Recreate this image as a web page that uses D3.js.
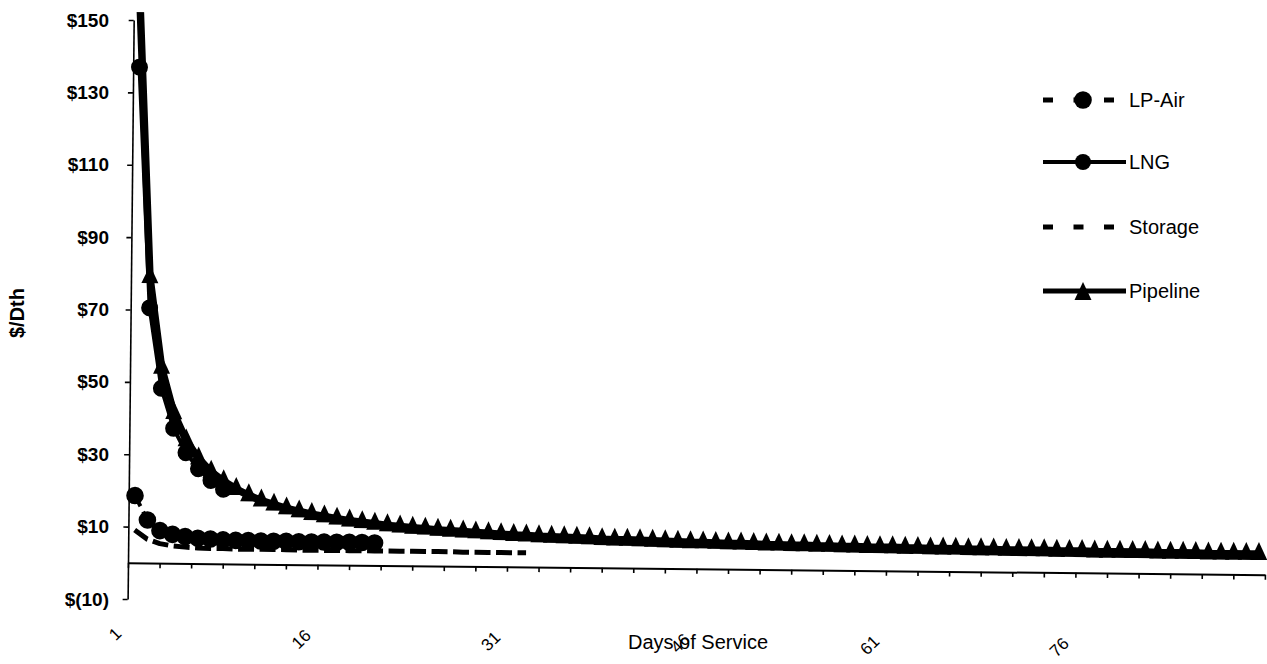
<!DOCTYPE html>
<html><head><meta charset="utf-8">
<script src="https://cdn.jsdelivr.net/npm/d3@7/dist/d3.min.js"></script>
<style>body{margin:0;background:#fff}svg{display:block;font-family:"Liberation Sans",Arial,sans-serif}</style>
</head><body><svg id="c" width="1267" height="664"></svg>
<script>
// ---- data ----
const days = d3.range(1, 91);                  // categories: day 1 .. 90
const xTickLabels = [1, 16, 31, 46, 61, 76];
const yTickValues = [-10, 10, 30, 50, 70, 90, 110, 130, 150];
const seriesNames = ["LP-Air", "LNG", "Storage", "Pipeline"];

const lpAir = [18.6, 11.9, 9.0, 8.0, 7.4, 7.0, 6.8, 6.6, 6.5, 6.5,
               6.4, 6.4, 6.4, 6.3, 6.3, 6.3, 6.3, 6.3, 6.3, 6.2];
const lng = [137.0, 70.5, 48.3, 37.3, 30.6, 26.2, 23.0, 20.6];
const storage = [9.1, 6.6, 5.4, 4.8, 4.5, 4.3, 4.2, 4.2, 4.1, 4.1,
                 4.1, 4.1, 4.1, 4.0, 4.0, 4.0, 4.0, 4.0, 4.0, 4.0,
                 4.0, 4.0, 4.0, 4.0, 4.0, 4.0, 3.9, 3.9, 3.9, 3.9,
                 3.9, 3.9];
const pipeline = [154.0, 79.0, 54.0, 41.5, 34.0, 29.0, 25.4, 22.8, 20.7, 19.0,
                  17.6, 16.5, 15.5, 14.7, 14.0, 13.4, 12.8, 12.3, 11.9, 11.5,
                  11.1, 10.8, 10.5, 10.3, 10.0, 9.8, 9.6, 9.4, 9.2, 9.0,
                  8.8, 8.7, 8.5, 8.4, 8.3, 8.2, 8.1, 7.9, 7.8, 7.8,
                  7.7, 7.6, 7.5, 7.4, 7.3, 7.3, 7.2, 7.1, 7.1, 7.0,
                  6.9, 6.9, 6.8, 6.8, 6.7, 6.7, 6.6, 6.6, 6.5, 6.5,
                  6.5, 6.4, 6.4, 6.3, 6.3, 6.3, 6.2, 6.2, 6.2, 6.1,
                  6.1, 6.1, 6.1, 6.0, 6.0, 6.0, 5.9, 5.9, 5.9, 5.9,
                  5.9, 5.8, 5.8, 5.8, 5.8, 5.7, 5.7, 5.7, 5.7, 5.7];

// ---- layout ----
const svg = d3.select("#c");
svg.append("rect").attr("width", 1267).attr("height", 664).attr("fill", "#fff");

const x = d3.scaleLinear().domain([0, days.length]).range([128, 1265]);
const xc = d => x(d - 0.5);                     // centre of a day's category
const y = d3.scaleLinear().domain([-10, 150]).range([599, 20]);
const fmt = v => v < 0 ? "$(" + Math.abs(v) + ")" : "$" + v;

// scanned page is slightly rotated
const plot = svg.append("g").attr("transform", `rotate(0.6,128,${y(0)})`);

plot.append("defs").append("clipPath").attr("id", "pc")
  .append("rect").attr("x", 100).attr("y", 12).attr("width", 1200).attr("height", 620);

// y axis (line + ticks)
const ya = plot.append("g").attr("transform", "translate(128,0)")
  .call(d3.axisLeft(y).tickValues(yTickValues).tickSize(5).tickSizeOuter(0).tickFormat(""));
ya.selectAll("path,line").attr("stroke", "#000").attr("stroke-width", 1.6);

// x axis (line + ticks every 2.5 days)
const xa = plot.append("g").attr("transform", `translate(0,${y(0)})`)
  .call(d3.axisBottom(x).tickValues(d3.range(0, days.length + 0.01, 2.5)).tickSize(5).tickSizeOuter(0).tickFormat(""));
xa.selectAll("path,line").attr("stroke", "#000").attr("stroke-width", 1.6);
xa.select("path").attr("stroke-width", 2);

// x tick labels, rotated
plot.append("g").selectAll("text").data(xTickLabels).join("text")
  .attr("transform", d => `translate(${xc(d) - 11},${y(0) + 72}) rotate(-45)`)
  .attr("text-anchor", "end").attr("font-size", 17).attr("fill", "#000")
  .text(d => d);

// series
const series = plot.append("g").attr("clip-path", "url(#pc)");
const line = d3.line().x((v, i) => xc(days[i])).y(v => y(v));
const tri = "M0,-12L8.5,6L-8.5,6Z";

function drawLine(vals, w, dash) {
  series.append("path").datum(vals).attr("d", line).attr("fill", "none")
    .attr("stroke", "#000").attr("stroke-width", w)
    .attr("stroke-linejoin", "round").attr("stroke-dasharray", dash || null);
}
function drawCircles(vals, r) {
  series.append("g").selectAll("circle").data(vals).join("circle")
    .attr("cx", (v, i) => xc(days[i])).attr("cy", v => y(v)).attr("r", r).attr("fill", "#000");
}
drawLine(lpAir, 4, "12,6");
drawCircles(lpAir, 8.8);
drawLine(lng, 4);
drawCircles(lng, 8.5);
drawLine(storage, 5, "16,5.5");
drawLine(pipeline, 7.5);
series.append("g").selectAll("path").data(pipeline).join("path")
  .attr("d", tri).attr("fill", "#000")
  .attr("transform", (v, i) => `translate(${xc(days[i])},${y(v)})`);

// y tick labels
const yl = svg.append("g").attr("transform", "translate(109,0)")
  .call(d3.axisLeft(y).tickValues(yTickValues).tickSize(0).tickPadding(0).tickFormat(fmt));
yl.select(".domain").remove();
yl.selectAll("text").attr("font-size", 19).attr("font-weight", "bold")
  .attr("font-family", '"Liberation Sans",Arial,sans-serif').attr("fill", "#000");

// axis titles
svg.append("text").attr("transform", "translate(24,313) rotate(-90)")
  .attr("text-anchor", "middle").attr("font-size", 20).attr("font-weight", "bold").text("$/Dth");
svg.append("text").attr("x", 698).attr("y", 649).attr("text-anchor", "middle")
  .attr("font-size", 20).text("Days of Service");

// legend
const legY = [100, 162, 227, 291];
const leg = svg.append("g");
seriesNames.forEach((name, i) => {
  const g = leg.append("g").attr("transform", `translate(0,${legY[i]})`);
  const dashed = (name === "LP-Air" || name === "Storage");
  g.append("line").attr("x1", 1043).attr("x2", 1126).attr("y1", 0).attr("y2", 0)
    .attr("stroke", "#000").attr("stroke-width", dashed ? 5 : (name === "Pipeline" ? 5 : 4))
    .attr("stroke-dasharray", dashed ? "10,20.5" : null);
  if (name === "LP-Air" || name === "LNG")
    g.append("circle").attr("cx", 1083).attr("cy", 0).attr("r", name === "LP-Air" ? 8.8 : 8).attr("fill", "#000");
  if (name === "Pipeline")
    g.append("path").attr("d", tri).attr("transform", "translate(1083,3)").attr("fill", "#000");
  g.append("text").attr("x", 1129).attr("y", 7).attr("font-size", 20).attr("fill", "#000").text(name);
});
</script></body></html>
